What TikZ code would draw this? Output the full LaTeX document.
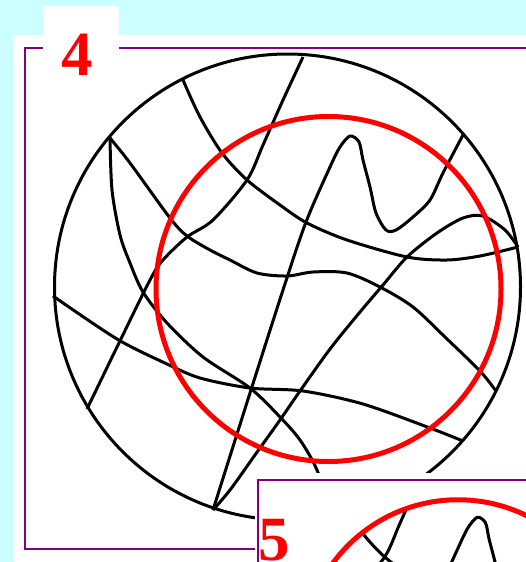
\documentclass[tikz,border=0pt]{standalone}
\usepackage{fontspec}
\setmainfont{Liberation Serif}
\definecolor{slidecyan}{RGB}{204,255,255}
\definecolor{framepurple}{RGB}{128,0,128}
\newcommand{\strands}{%
  \foreach \n/\x/\y in {r1/110/138,r2/183/80,r3/303/57,r4/463/135,r5/518/247,r6/496/391,r7/463/441,r8/213/510,r9/87/409,r10/53/296,r11/332/515}
    \coordinate (\n) at (\x,\y);
  \draw[e] plot[smooth] coordinates {(r1) (112,190) (120,235) (130,263) (143,292) (167,323) (203,357) (250,388) (280,417) (300,440) (317,470) (r11)};
  \draw[e] plot[smooth] coordinates {(r1) (130,163) (170,218) (187,236) (210,250) (230,260) (257,273) (287,276) (313,272) (347,273) (380,287) (413,307) (446,338) (480,371) (r6)};
  \draw[e] plot[smooth] coordinates {(r2) (200,117) (222,153) (247,180) (280,205) (307,223) (347,240) (407,257) (447,260) (480,256) (r5)};
  \draw[e] plot[smooth] coordinates {(r3) (283,100) (263,145) (247,180) (213,220) (187,237) (163,260) (150,280) (118,345) (r9)};
  \draw[e] plot[smooth] coordinates {(r10) (117,339) (167,364) (200,378) (250,388) (303,391) (363,404) (430,428) (r7)};
  \draw[e] plot[smooth] coordinates {(r8) (250,393) (283,290) (306,222) (330,167) (340,147) (350,136) (359,142) (363,160) (370,187) (376,213) (386,230) (396,230) (413,217) (430,200) (443,173) (r4)};
  \draw[e] plot[smooth] coordinates {(r8) (230,490) (255,455) (280,420) (300,391) (330,349) (360,312) (383,285) (407,257) (437,233) (463,218) (483,216) (505,230) (r5)};
}
\begin{document}
\begin{tikzpicture}[x=1pt,y=-1pt,
  e/.style={draw=black,line width=3pt,line join=round},
  ring/.style={draw=red,line width=5pt},
  panel/.style={fill=white,draw=framepurple,line width=2.6pt},
  num/.style={font=\fontsize{63}{63}\selectfont\bfseries,text=red,anchor=base,inner sep=0pt}]
  \useasboundingbox (0,0) rectangle (526,562);
  \fill[slidecyan] (0,0) rectangle (526,562);
  \fill[white] (13,35) rectangle (540,570);
  \draw[panel] (25,48) rectangle (540,549);
  \fill[white] (43,6) rectangle (119,52);
  \node[num] (four) at (77,75) {4};
  \draw[e] (287.5,287) circle[radius=233];
  \strands
  \draw[ring] (328.5,289) circle[radius=172.5];
  \fill[white] (255,473) rectangle (540,570);
  \draw[panel] (258,480) rectangle (540,580);
  \node[num] (five) at (274,560) {5};
  \begin{scope}[shift={(458,655)},scale=0.9,shift={(-328.5,-289)}]
    \begin{scope}
      \clip (328.5,289) circle[radius=172.5];
      \strands
    \end{scope}
    \draw[ring] (328.5,289) circle[radius=172.5];
  \end{scope}
\end{tikzpicture}
\end{document}
